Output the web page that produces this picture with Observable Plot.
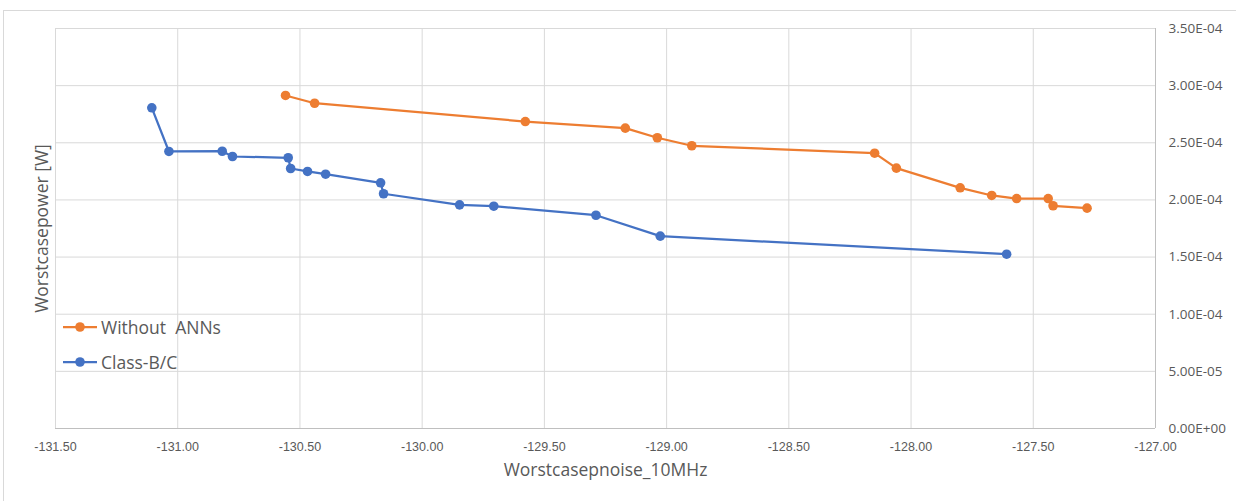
<!DOCTYPE html>
<html>
<head>
<meta charset="utf-8">
<script src="https://cdn.jsdelivr.net/npm/d3@7"></script>
<script src="https://cdn.jsdelivr.net/npm/@observablehq/plot@0.6"></script>
<style>
  html, body { margin: 0; padding: 0; background: #fff; }
  #wrap { position: relative; width: 1236px; height: 501px; overflow: hidden; }
  #border { position: absolute; left: 3px; top: 10px; width: 1300px; height: 600px;
            border: 1px solid #d9d9d9; box-sizing: border-box; pointer-events: none; }
  #legend { position: absolute; left: 63px; top: 309px; font-family: "Open Sans", sans-serif;
            font-size: 17.5px; color: #595959; }
  #legend .item { display: flex; align-items: center; height: 35px; white-space: pre; }
  #legend svg { margin-right: 4px; }
</style>
</head>
<body>
<div id="wrap">
  <div id="border"></div>
  <div id="chart"></div>
  <div id="legend"></div>
</div>
<script>
// Worst-case noise (dB, 10 MHz) vs worst-case power (W)
const seriesNames = ["Without  ANNs", "Class-B/C"];
const seriesColors = ["#ED7D31", "#4472C4"];

const noiseWithoutANNs = [-130.559, -130.440, -129.578, -129.169, -129.038, -128.897, -128.149,
                          -128.060, -127.799, -127.670, -127.568, -127.439, -127.419, -127.280];
const powerWithoutANNs = [2.914e-4, 2.846e-4, 2.686e-4, 2.628e-4, 2.544e-4, 2.474e-4, 2.409e-4,
                          2.278e-4, 2.106e-4, 2.039e-4, 2.012e-4, 2.012e-4, 1.949e-4, 1.928e-4];

const noiseClassBC = [-131.106, -131.036, -130.818, -130.776, -130.548, -130.538, -130.469,
                      -130.395, -130.170, -130.158, -129.847, -129.707, -129.289, -129.026, -127.609];
const powerClassBC = [2.806e-4, 2.424e-4, 2.426e-4, 2.380e-4, 2.369e-4, 2.275e-4, 2.249e-4,
                      2.225e-4, 2.150e-4, 2.054e-4, 1.957e-4, 1.945e-4, 1.866e-4, 1.683e-4, 1.525e-4];

const xTicks = [-131.5, -131, -130.5, -130, -129.5, -129, -128.5, -128, -127.5, -127];
const yTicks = [0, 5e-5, 1e-4, 1.5e-4, 2e-4, 2.5e-4, 3e-4, 3.5e-4];

const xTitle = "Worstcasepnoise_10MHz";
const yTitle = "Worstcasepower [W]";

const rows = [
  ...noiseWithoutANNs.map((x, i) => ({series: seriesNames[0], x, y: powerWithoutANNs[i]})),
  ...noiseClassBC.map((x, i) => ({series: seriesNames[1], x, y: powerClassBC[i]}))
];

// Spreadsheet-style scientific notation, e.g. 3.50E-04
function sci(d) {
  const [m, e] = d.toExponential(2).split("e");
  const n = +e;
  return m + "E" + (n < 0 ? "-" : "+") + String(Math.abs(n)).padStart(2, "0");
}

const chart = Plot.plot({
  width: 1236,
  height: 501,
  marginLeft: 55,
  marginRight: 81,
  marginTop: 28,
  marginBottom: 73,
  style: {background: "transparent", color: "#595959"},
  x: {domain: [-131.5, -127]},
  y: {domain: [0, 3.5e-4]},
  color: {domain: seriesNames, range: seriesColors},
  marks: [
    Plot.gridX(xTicks, {stroke: "#d9d9d9", strokeOpacity: 1, strokeWidth: 1}),
    Plot.gridY(yTicks, {stroke: "#d9d9d9", strokeOpacity: 1, strokeWidth: 1}),
    Plot.ruleY([0], {stroke: "#bfbfbf", strokeWidth: 1}),
    Plot.ruleX([-127], {stroke: "#bfbfbf", strokeWidth: 1}),
    Plot.axisX(xTicks, {
      tickSize: 0, tickPadding: 14, label: null,
      tickFormat: d => d.toFixed(2),
      fontFamily: "Liberation Sans Narrow, Arial Narrow, sans-serif", fontSize: 12.5, fill: "#595959"
    }),
    Plot.axisY(yTicks, {
      anchor: "right", tickSize: 0, tickPadding: 13, label: null,
      tickFormat: sci,
      fontFamily: "Open Sans, sans-serif", fontSize: 13.5, fill: "#595959"
    }),
    Plot.text([xTitle], {
      frameAnchor: "bottom", dy: 47, text: d => d, textAnchor: "middle",
      fontFamily: "Open Sans, sans-serif", fontSize: 17.5, fill: "#595959"
    }),
    Plot.text([yTitle], {
      frameAnchor: "left", dx: -13, rotate: -90, text: d => d, textAnchor: "middle",
      fontFamily: "Open Sans, sans-serif", fontSize: 17.5, fill: "#595959"
    }),
    Plot.line(rows, {x: "x", y: "y", z: "series", stroke: "series", strokeWidth: 2.25, curve: "linear"}),
    Plot.dot(rows, {x: "x", y: "y", fill: "series", r: 4.8, stroke: "none"})
  ]
});
document.getElementById("chart").appendChild(chart);

// Legend drawn inside the plot area
const legend = d3.select("#legend");
seriesNames.forEach((name, i) => {
  const item = legend.append("div").attr("class", "item");
  const s = item.append("svg").attr("width", 34).attr("height", 12);
  s.append("line").attr("x1", 0).attr("x2", 34).attr("y1", 6).attr("y2", 6)
    .attr("stroke", seriesColors[i]).attr("stroke-width", 2.25);
  s.append("circle").attr("cx", 17).attr("cy", 6).attr("r", 4.8).attr("fill", seriesColors[i]);
  item.append("span").text(name);
});
</script>
</body>
</html>
